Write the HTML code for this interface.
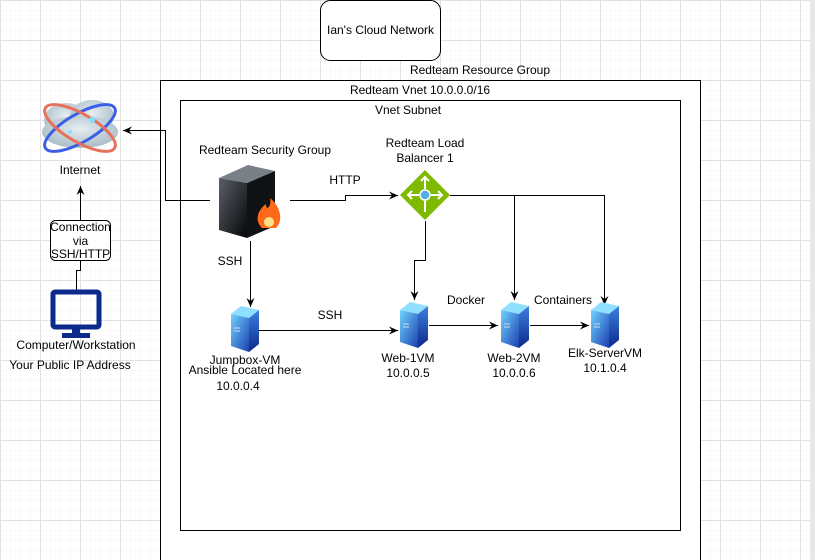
<!DOCTYPE html>
<html><head><meta charset="utf-8"><style>
html,body{margin:0;padding:0;background:#fff}
svg{display:block}
text{font-family:"Liberation Sans",Arial,sans-serif;font-size:12px;fill:#000}
</style></head><body>
<svg width="815" height="560" viewBox="0 0 815 560" xmlns="http://www.w3.org/2000/svg">
<defs>
<pattern id="minor" width="10" height="10" patternUnits="userSpaceOnUse"><path d="M10 0H0V10" fill="none" stroke="#f3f3f3" stroke-width="1"/></pattern>
<pattern id="major" width="40" height="40" patternUnits="userSpaceOnUse"><rect width="40" height="40" fill="url(#minor)"/><path d="M40 0.5H0.5V40" fill="none" stroke="#e2e2e2" stroke-width="1"/></pattern>
<marker id="ar" markerWidth="10" markerHeight="10" refX="9" refY="5" orient="auto" markerUnits="userSpaceOnUse"><path d="M0 1 L9 5 L0 9 L3 5Z" fill="#000"/></marker>
<linearGradient id="srv" x1="0" y1="0" x2="1" y2="1"><stop offset="0" stop-color="#6fd3ff"/><stop offset="1" stop-color="#1c3fb0"/></linearGradient>
<linearGradient id="srvs" x1="0" y1="0" x2="0" y2="1"><stop offset="0" stop-color="#3d7fe0"/><stop offset="1" stop-color="#0c2a8a"/></linearGradient>
<linearGradient id="fw" x1="0" y1="0" x2="1" y2="1"><stop offset="0" stop-color="#5a6068"/><stop offset="1" stop-color="#050608"/></linearGradient>
<radialGradient id="cl" cx="0.5" cy="0.4" r="0.6"><stop offset="0" stop-color="#e6eef2"/><stop offset="1" stop-color="#a9bcc6"/></radialGradient>
<g id="server"><path d="M0 8 L10 0 L28 4 L18 12Z" fill="#8fe0ff"/><path d="M0 8 L18 12 L18 46 L0 40Z" fill="url(#srv)"/><path d="M18 12 L28 4 L28 38 L18 46Z" fill="url(#srvs)"/><path d="M3 22h6M3 25h6" stroke="#cde" stroke-width="1"/></g>
</defs>
<rect width="815" height="560" fill="url(#major)"/>
<rect x="810" y="0" width="5" height="560" fill="#e8e8e8"/>

<rect x="320.5" y="0.5" width="120" height="60" rx="10" fill="#fff" stroke="#000"/>
<text x="380.5" y="34" text-anchor="middle">Ian's Cloud Network</text>
<text x="480" y="74" text-anchor="middle">Redteam Resource Group</text>
<rect x="160.5" y="80.5" width="540" height="490" fill="#fff" stroke="#000"/>
<text x="420" y="94" text-anchor="middle">Redteam Vnet 10.0.0.0/16</text>
<rect x="180.5" y="100.5" width="500" height="430" fill="#fff" stroke="#000"/>
<text x="408" y="114" text-anchor="middle">Vnet Subnet</text>

<!-- cloud -->
<g>
<ellipse cx="66" cy="120" rx="22" ry="17" fill="url(#cl)"/>
<ellipse cx="92" cy="116" rx="22" ry="16" fill="url(#cl)"/>
<ellipse cx="80" cy="132" rx="38" ry="16" fill="url(#cl)"/>
<ellipse cx="80" cy="128" rx="40" ry="14" transform="rotate(-30 80 128)" fill="none" stroke="#3a5ee8" stroke-width="3"/>
<ellipse cx="80" cy="128" rx="40" ry="14" transform="rotate(30 80 128)" fill="none" stroke="#e8705a" stroke-width="3"/>
<circle cx="92" cy="120" r="3" fill="#7ee0ff"/>
<circle cx="70" cy="132" r="2" fill="#7ee0ff"/>
</g>
<text x="80" y="174" text-anchor="middle">Internet</text>

<path d="M210 200.5 H165.5 V130.5 H123" fill="none" stroke="#000" marker-end="url(#ar)"/>
<path d="M80.5 220 V186" fill="none" stroke="#000" marker-end="url(#ar)"/>
<rect x="50.5" y="220.5" width="60" height="40" rx="5" fill="#fff" stroke="#000"/>
<text x="80.5" y="231" text-anchor="middle">Connection</text>
<text x="80.5" y="245" text-anchor="middle">via</text>
<text x="80.5" y="258" text-anchor="middle">SSH/HTTP</text>
<path d="M80.5 261 V270.5 H76.5 V292" fill="none" stroke="#000"/>
<!-- monitor -->
<rect x="53" y="292" width="46" height="35" rx="2" fill="none" stroke="#0b2a8c" stroke-width="5"/>
<rect x="72" y="328" width="8" height="6" fill="#0b2a8c"/>
<rect x="62" y="333" width="28" height="5" fill="#0b2a8c"/>
<text x="76" y="349" text-anchor="middle">Computer/Workstation</text>
<text x="70" y="369" text-anchor="middle">Your Public IP Address</text>

<!-- firewall -->
<text x="265" y="154" text-anchor="middle">Redteam Security Group</text>
<path d="M219 178 L248 165 L275 171 L247 183Z" fill="#7a8088"/>
<path d="M219 178 L247 183 L247 238 L219 230Z" fill="url(#fw)"/>
<path d="M247 183 L275 171 L275 226 L247 238Z" fill="#101216"/>
<path d="M262 228 C254 220 258 210 266 204 C266 212 272 206 270 198 C280 206 284 220 276 228Z" fill="#ff6a1a"/>
<ellipse cx="269" cy="222" rx="5" ry="5" fill="#ffe08a"/>
<text x="230" y="265" text-anchor="middle">SSH</text>
<path d="M250.5 241 V307" fill="none" stroke="#000" marker-end="url(#ar)"/>

<use href="#server" x="231" y="306"/>
<text x="245" y="364" text-anchor="middle">Jumpbox-VM</text>
<text x="245" y="374" text-anchor="middle">Ansible Located here</text>
<text x="238" y="390" text-anchor="middle">10.0.0.4</text>

<path d="M259 330.5 H398" fill="none" stroke="#000" marker-end="url(#ar)"/>
<text x="330" y="319" text-anchor="middle">SSH</text>

<!-- LB -->
<text x="425" y="147" text-anchor="middle">Redteam Load</text>
<text x="425" y="162" text-anchor="middle">Balancer 1</text>
<path d="M425 170 L450 195 L425 220 L400 195Z" fill="#7fba00"/>
<circle cx="425" cy="195" r="5" fill="#50b0e0" stroke="#fff" stroke-width="1.5"/>
<path d="M425 177V189M425 201V212M408 195H419M431 195H442M421 181L425 177L429 181M412 191L408 195L412 199M438 191L442 195L438 199" stroke="#fff" stroke-width="2" fill="none"/>
<text x="345" y="184" text-anchor="middle">HTTP</text>
<path d="M290 200.5 H345.5 V195.5 H398" fill="none" stroke="#000" marker-end="url(#ar)"/>
<path d="M450 195.5 H604.5 V305" fill="none" stroke="#000" marker-end="url(#ar)"/>
<path d="M514.5 195.5 V300" fill="none" stroke="#000" marker-end="url(#ar)"/>
<path d="M425.5 221 V260.5 H414.5 V300" fill="none" stroke="#000" marker-end="url(#ar)"/>

<use href="#server" x="400" y="302"/>
<use href="#server" x="501" y="302"/>
<use href="#server" x="591" y="302"/>
<path d="M429 325.5 H498" fill="none" stroke="#000" marker-end="url(#ar)"/>
<path d="M530 325.5 H589" fill="none" stroke="#000" marker-end="url(#ar)"/>
<text x="466" y="304" text-anchor="middle">Docker</text>
<text x="563" y="304" text-anchor="middle">Containers</text>
<text x="408" y="362" text-anchor="middle">Web-1VM</text>
<text x="408" y="377" text-anchor="middle">10.0.0.5</text>
<text x="514" y="362" text-anchor="middle">Web-2VM</text>
<text x="514" y="377" text-anchor="middle">10.0.0.6</text>
<text x="605" y="357" text-anchor="middle">Elk-ServerVM</text>
<text x="605" y="372" text-anchor="middle">10.1.0.4</text>
</svg>
</body></html>
